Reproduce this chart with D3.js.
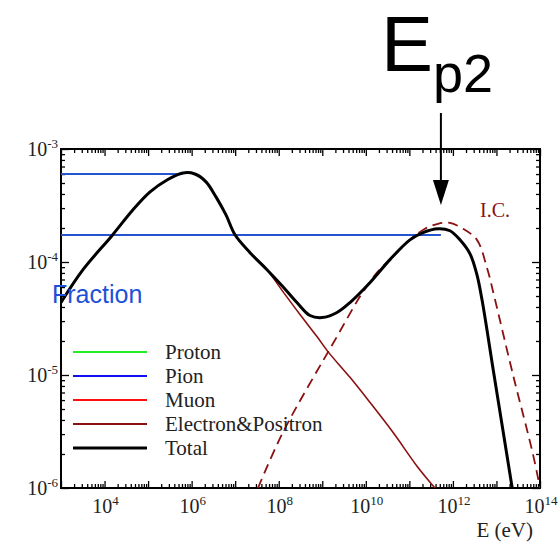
<!DOCTYPE html>
<html>
<head>
<meta charset="utf-8">
<script src="https://cdn.jsdelivr.net/npm/d3@7"></script>
<style>
  html, body { margin: 0; padding: 0; background: #fff; }
  svg { display: block; }
</style>
</head>
<body>
<div id="chart"></div>
<script>
// data (E in eV, fraction)
const totalE    = [1.0e3, 3.2e3, 1.48e4, 4.5e4, 1.11e5, 2.72e5, 6.3e5, 1.19e6, 2.14e6, 3.62e6, 6.15e6, 9.9e6, 2.19e7, 5.37e7, 1.25e8, 2.62e8, 5.22e8, 9.84e8, 2.18e9, 4.33e9, 1.24e10, 3.58e10, 1.03e11, 2.05e11, 4.54e11, 8.55e11, 1.45e12, 2.47e12, 3.56e12, 4.65e12, 8.77e12, 2.3e13];
const totalF    = [4.38e-5, 8.55e-5, 1.71e-4, 2.90e-4, 4.17e-4, 5.32e-4, 6.14e-4, 6.01e-4, 5.12e-4, 3.77e-4, 2.61e-4, 1.74e-4, 1.21e-4, 8.55e-5, 6.05e-5, 4.38e-5, 3.36e-5, 3.22e-5, 3.57e-5, 4.38e-5, 6.56e-5, 1.05e-4, 1.57e-4, 1.82e-4, 1.97e-4, 1.89e-4, 1.57e-4, 1.18e-4, 7.73e-5, 4.65e-5, 1.01e-5, 1.0e-6];

const electronE = [2.19e7, 5.37e7, 1.25e8, 3.08e8, 7.55e8, 1.35e9, 4.33e9, 1.24e10, 4.2e10, 1.5e11, 3.87e11];
const electronF = [1.21e-4, 8.55e-5, 5.47e-5, 3.43e-5, 2.19e-5, 1.61e-5, 9.53e-6, 5.73e-6, 3.11e-6, 1.56e-6, 1.0e-6];

const icE = [3.34e7, 1.25e8, 2.18e9, 7.35e9, 1.80e10, 3.58e10, 1.03e11, 2.28e11, 4.54e11, 8.55e11, 1.70e12, 3.56e12, 6.05e12, 9.25e12, 2.39e13, 6.9e13, 1.0e14];
const icF = [1.0e-6, 3.11e-6, 2.19e-5, 4.94e-5, 8.05e-5, 1.05e-4, 1.57e-4, 1.97e-4, 2.18e-4, 2.22e-4, 1.97e-4, 1.57e-4, 8.91e-5, 4.65e-5, 1.01e-5, 1.99e-6, 1.0e-6];

// the two horizontal pion levels
const pionLevels = [6.0e-4, 1.73e-4];
const pionEnds   = [6.3e5, 5.3e11];
const Ep2 = 5.3e11;

const legendNames  = ["Proton", "Pion", "Muon", "Electron&Positron", "Total"];
const legendColors = ["#22ee22", "#1010f0", "#ff1010", "#8b1010", "#000000"];

const xTickExps = [4, 6, 8, 10, 12, 14];
const yTickExps = [-3, -4, -5, -6];

const W = 558, H = 544;
const plot = {left: 61, right: 540, top: 149, bottom: 488};

const svg = d3.select("#chart").append("svg")
    .attr("width", W)
    .attr("height", H);

const x = d3.scaleLog().domain([1e3, 1e14]).range([plot.left, plot.right]);
const y = d3.scaleLog().domain([1e-6, 1e-3]).range([plot.bottom, plot.top]);

svg.append("clipPath").attr("id", "clip")
  .append("rect")
    .attr("x", plot.left).attr("y", plot.top)
    .attr("width", plot.right - plot.left)
    .attr("height", plot.bottom - plot.top);

const serif = "'Liberation Serif', 'Times New Roman', serif";
const sans = "'Liberation Sans', Arial, Helvetica, sans-serif";

// ticks
const xMinor = [], xMajor = [];
for (let d = 3; d <= 14; d++) {
    xMajor.push(Math.pow(10, d));
    if (d < 14) for (let k = 2; k <= 9; k++) xMinor.push(k * Math.pow(10, d));
}
const yMinor = [], yMajor = [];
for (let d = -6; d <= -3; d++) {
    yMajor.push(Math.pow(10, d));
    if (d < -3) for (let k = 2; k <= 9; k++) yMinor.push(k * Math.pow(10, d));
}

function styleAxis(g) {
    g.select(".domain").remove();
    g.selectAll(".tick line").attr("stroke", "#000").attr("stroke-width", 1.3);
    g.selectAll(".tick text").remove();
}

[[xMinor, 4], [xMajor, 7]].forEach(([vals, len]) => {
    svg.append("g").attr("transform", `translate(0,${plot.bottom})`)
        .call(d3.axisBottom(x).tickValues(vals).tickSize(-len).tickFormat(""))
        .call(styleAxis);
    svg.append("g").attr("transform", `translate(0,${plot.top})`)
        .call(d3.axisTop(x).tickValues(vals).tickSize(-len).tickFormat(""))
        .call(styleAxis);
});
[[yMinor, 4], [yMajor, 8]].forEach(([vals, len]) => {
    svg.append("g").attr("transform", `translate(${plot.left},0)`)
        .call(d3.axisLeft(y).tickValues(vals).tickSize(-len).tickFormat(""))
        .call(styleAxis);
    svg.append("g").attr("transform", `translate(${plot.right},0)`)
        .call(d3.axisRight(y).tickValues(vals).tickSize(-len).tickFormat(""))
        .call(styleAxis);
});

// frame
svg.append("rect")
    .attr("x", plot.left).attr("y", plot.top)
    .attr("width", plot.right - plot.left)
    .attr("height", plot.bottom - plot.top)
    .attr("fill", "none")
    .attr("stroke", "#000")
    .attr("stroke-width", 2);

// tick labels
xTickExps.forEach(e => {
    const t = svg.append("text")
        .attr("x", x(Math.pow(10, e)) + 1)
        .attr("y", 513)
        .attr("text-anchor", "middle")
        .attr("font-family", serif)
        .attr("font-size", 20)
        .attr("fill", "#222");
    t.append("tspan").text("10");
    t.append("tspan").attr("dy", -8).attr("font-size", 13).text(e);
});
yTickExps.forEach(e => {
    const t = svg.append("text")
        .attr("x", 58)
        .attr("y", y(Math.pow(10, e)) + 7)
        .attr("text-anchor", "end")
        .attr("font-family", serif)
        .attr("font-size", 20)
        .attr("fill", "#222");
    t.append("tspan").text("10");
    t.append("tspan").attr("dy", -8).attr("font-size", 13).text(e);
});

svg.append("text")
    .attr("x", 533).attr("y", 537)
    .attr("text-anchor", "end")
    .attr("font-family", serif)
    .attr("font-size", 21)
    .attr("fill", "#222")
    .text("E (eV)");

// curves
const line = d3.line()
    .x(d => x(d[0]))
    .y(d => y(d[1]))
    .curve(d3.curveCatmullRom.alpha(0.5));

const curves = svg.append("g").attr("clip-path", "url(#clip)");

pionLevels.forEach((v, i) => {
    curves.append("line")
        .attr("x1", x(1e3)).attr("x2", x(pionEnds[i]))
        .attr("y1", y(v)).attr("y2", y(v))
        .attr("stroke", "#2454d0")
        .attr("stroke-width", 2);
});

curves.append("path")
    .datum(electronE.map((e, i) => [e, electronF[i]]))
    .attr("d", line)
    .attr("fill", "none")
    .attr("stroke", "#8b1010")
    .attr("stroke-width", 1.6);

curves.append("path")
    .datum(icE.map((e, i) => [e, icF[i]]))
    .attr("d", line)
    .attr("fill", "none")
    .attr("stroke", "#8b1010")
    .attr("stroke-width", 1.8)
    .attr("stroke-dasharray", "10,6");

curves.append("path")
    .datum(totalE.map((e, i) => [e, totalF[i]]))
    .attr("d", line)
    .attr("fill", "none")
    .attr("stroke", "#000")
    .attr("stroke-width", 3);

// legend
const legend = svg.append("g");
legendNames.forEach((name, i) => {
    const ly = 352 + i * 24;
    legend.append("line")
        .attr("x1", 73).attr("x2", 147)
        .attr("y1", ly).attr("y2", ly)
        .attr("stroke", legendColors[i])
        .attr("stroke-width", name === "Total" ? 3 : 2);
    legend.append("text")
        .attr("x", 165).attr("y", ly + 7)
        .attr("font-family", serif)
        .attr("font-size", 21)
        .attr("fill", "#222")
        .text(name);
});

// annotations
svg.append("text")
    .attr("x", 52).attr("y", 303)
    .attr("font-family", sans)
    .attr("font-size", 25)
    .attr("fill", "#2050d8")
    .text("Fraction");

svg.append("text")
    .attr("x", 480).attr("y", 217)
    .attr("font-family", serif)
    .attr("font-size", 20)
    .attr("fill", "#8b1010")
    .text("I.C.");

const ep = svg.append("text")
    .attr("x", 381).attr("y", 71)
    .attr("font-family", sans)
    .attr("font-size", 78)
    .attr("fill", "#000");
ep.append("tspan").text("E");
ep.append("tspan").attr("dy", 21).attr("font-size", 54).text("p2");

const ax = x(Ep2);
svg.append("line")
    .attr("x1", ax).attr("x2", ax)
    .attr("y1", 113).attr("y2", 185)
    .attr("stroke", "#000")
    .attr("stroke-width", 2);
svg.append("path")
    .attr("d", `M${ax - 8},180 L${ax + 8},180 L${ax},205 Z`)
    .attr("fill", "#000");
</script>
</body>
</html>
